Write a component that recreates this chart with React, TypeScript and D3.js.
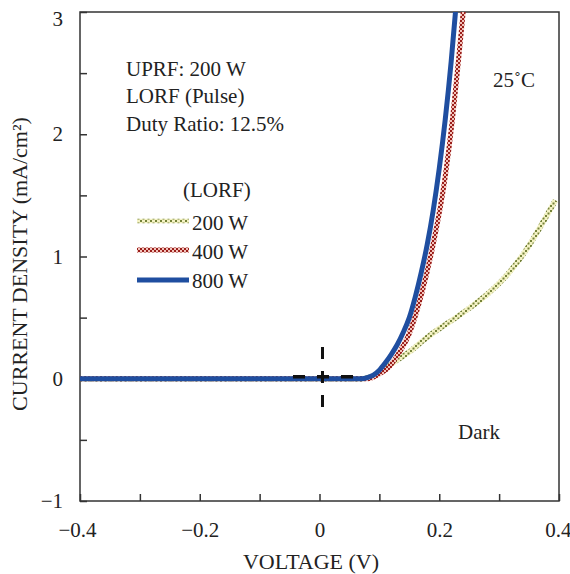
import React, { useEffect, useRef } from "react";
import * as d3 from "d3";

const W = 570;
const H = 574;
const M = { left: 80, top: 12, right: 559, bottom: 501 };

// Voltage (V) / current density (mA/cm²)
const v800 = [-0.4, -0.3, -0.2, -0.1, 0.0, 0.05, 0.07, 0.08, 0.09, 0.1, 0.11, 0.12, 0.13, 0.14, 0.15, 0.16, 0.17, 0.18, 0.19, 0.2, 0.21, 0.22, 0.228];
const j800 = [0, 0, 0, 0, 0, 0, 0.0, 0.01, 0.03, 0.07, 0.13, 0.2, 0.28, 0.38, 0.5, 0.67, 0.87, 1.1, 1.38, 1.72, 2.12, 2.6, 3.05];

const v400 = [-0.4, -0.3, -0.2, -0.1, 0.0, 0.05, 0.08, 0.1, 0.117, 0.13, 0.15, 0.172, 0.189, 0.209, 0.222, 0.232, 0.241];
const j400 = [0, 0, 0, 0, 0, 0, 0.0, 0.04, 0.1, 0.19, 0.37, 0.72, 1.08, 1.62, 2.12, 2.6, 3.05];

const v200 = [-0.4, -0.3, -0.2, -0.1, 0.0, 0.05, 0.07, 0.1, 0.12, 0.135, 0.15, 0.175, 0.2, 0.225, 0.251, 0.28, 0.306, 0.33, 0.346, 0.372, 0.394];
const j200 = [0, 0, 0, 0, 0, 0, 0.0, 0.05, 0.12, 0.17, 0.22, 0.32, 0.41, 0.49, 0.58, 0.69, 0.81, 0.95, 1.06, 1.27, 1.46];

const xTicksMajor = [-0.4, -0.2, 0, 0.2, 0.4];
const xTicksAll = [-0.4, -0.3, -0.2, -0.1, 0, 0.1, 0.2, 0.3, 0.4];
const yTicksMajor = [-1, 0, 1, 2, 3];
const yTicksAll = [-1, -0.5, 0, 0.5, 1, 1.5, 2, 2.5, 3];

const legendLabels = ["200 W", "400 W", "800 W"];
const infoLines = ["UPRF: 200 W", "LORF (Pulse)", "Duty Ratio: 12.5%"];

const FONT = "'Liberation Serif', 'Times New Roman', serif";
const FS = 21;

export default function App() {
  const ref = useRef<SVGSVGElement>(null);

  useEffect(() => {
    const svg = d3.select(ref.current);
    svg.selectAll("*").remove();

    const x = d3.scaleLinear().domain([-0.4, 0.4]).range([M.left, M.right]);
    const y = d3.scaleLinear().domain([-1, 3]).range([M.bottom, M.top]);

    const defs = svg.append("defs");
    const pRed = defs.append("pattern").attr("id", "pRed").attr("patternUnits", "userSpaceOnUse").attr("width", 4).attr("height", 4);
    pRed.append("rect").attr("width", 4).attr("height", 4).attr("fill", "#f2c4bc");
    pRed.append("rect").attr("x", 0).attr("y", 0).attr("width", 2).attr("height", 2).attr("fill", "#9a1e1a");
    pRed.append("rect").attr("x", 2).attr("y", 2).attr("width", 2).attr("height", 2).attr("fill", "#9a1e1a");

    const pGreen = defs.append("pattern").attr("id", "pGreen").attr("patternUnits", "userSpaceOnUse").attr("width", 5).attr("height", 5);
    pGreen.append("rect").attr("width", 5).attr("height", 5).attr("fill", "#f4f2c4");
    pGreen.append("rect").attr("x", 0).attr("y", 0).attr("width", 2).attr("height", 2).attr("fill", "#74823a");
    pGreen.append("rect").attr("x", 2.5).attr("y", 2.5).attr("width", 2).attr("height", 2).attr("fill", "#74823a");

    defs.append("clipPath").attr("id", "plotClip").append("rect")
      .attr("x", M.left).attr("y", M.top).attr("width", M.right - M.left).attr("height", M.bottom - M.top);

    // Frame
    svg.append("rect").attr("x", M.left).attr("y", M.top).attr("width", M.right - M.left).attr("height", M.bottom - M.top)
      .attr("fill", "none").attr("stroke", "#333").attr("stroke-width", 1.5);

    // Axes
    const xAxis = svg.append("g").attr("transform", `translate(0,${M.bottom})`)
      .call(d3.axisBottom(x).tickValues(xTicksAll).tickSize(-7).tickPadding(21)
        .tickFormat((d: any) => (xTicksMajor.some((t) => Math.abs(t - d) < 1e-9) ? d3.format("")(d) : "")));
    xAxis.select(".domain").remove();
    xAxis.selectAll("line").attr("stroke", "#333").attr("stroke-width", 1.5);
    xAxis.selectAll("text").attr("font-family", FONT).attr("font-size", FS).attr("fill", "#222");
    // last label kept inside the picture
    xAxis.selectAll<SVGTextElement, number>("text").filter((d) => Math.abs(d - 0.4) < 1e-9)
      .attr("text-anchor", "end").attr("dx", "12");
    xAxis.selectAll<SVGTextElement, number>("text").filter((d) => Math.abs(d + 0.4) < 1e-9)
      .attr("dx", "-3");

    const yAxis = svg.append("g").attr("transform", `translate(${M.left},0)`)
      .call(d3.axisLeft(y).tickValues(yTicksAll).tickSize(-7).tickPadding(17)
        .tickFormat((d: any) => (yTicksMajor.some((t) => Math.abs(t - d) < 1e-9) ? d3.format("")(d) : "")));
    yAxis.select(".domain").remove();
    yAxis.selectAll("line").attr("stroke", "#333").attr("stroke-width", 1.5);
    yAxis.selectAll("text").attr("font-family", FONT).attr("font-size", FS).attr("fill", "#222");
    yAxis.selectAll<SVGTextElement, number>("text").filter((d) => d === 3).attr("dy", "0.62em");

    // Axis titles
    svg.append("text").attr("x", 311).attr("y", 569).attr("text-anchor", "middle")
      .attr("font-family", FONT).attr("font-size", 22).attr("fill", "#222").text("VOLTAGE (V)");
    svg.append("text").attr("transform", `translate(27,264) rotate(-90)`).attr("text-anchor", "middle")
      .attr("font-family", FONT).attr("font-size", 22).attr("fill", "#222").text("CURRENT DENSITY (mA/cm²)");

    // Curves
    const line = d3.line<[number, number]>().x((d) => x(d[0])).y((d) => y(d[1])).curve(d3.curveMonotoneX);
    const g = svg.append("g").attr("clip-path", "url(#plotClip)");
    const series = [
      { v: v200, j: j200, stroke: "url(#pGreen)", w: 5.5 },
      { v: v400, j: j400, stroke: "url(#pRed)", w: 5 },
      { v: v800, j: j800, stroke: "#1f4ea0", w: 5 },
    ];
    series.forEach((s) => {
      const pts = s.v.map((vv, i) => [vv, s.j[i]] as [number, number]);
      g.append("path").attr("d", line(pts)).attr("fill", "none").attr("stroke", s.stroke)
        .attr("stroke-width", s.w).attr("stroke-linejoin", "round");
    });

    // Crosshair at origin
    svg.append("line").attr("x1", 293).attr("x2", 355).attr("y1", y(0) - 2).attr("y2", y(0) - 2)
      .attr("stroke", "#111").attr("stroke-width", 3.5).attr("stroke-dasharray", "12,12");
    svg.append("line").attr("x1", x(0.005)).attr("x2", x(0.005)).attr("y1", 347).attr("y2", 407)
      .attr("stroke", "#111").attr("stroke-width", 3).attr("stroke-dasharray", "12,12");

    // Info text
    const infoY = [75.5, 103, 131];
    infoLines.forEach((t, i) => {
      svg.append("text").attr("x", 126).attr("y", infoY[i]).attr("font-family", FONT).attr("font-size", FS)
        .attr("fill", "#222").text(t);
    });
    svg.append("text").attr("x", 183).attr("y", 197).attr("font-family", FONT).attr("font-size", FS).attr("fill", "#222").text("(LORF)");

    // Legend
    const legendStrokes = ["url(#pGreen)", "url(#pRed)", "#1f4ea0"];
    const legendW = [4.5, 5, 5];
    const lineY = [221, 250, 280];
    const textY = [230, 259, 288];
    legendLabels.forEach((lab, i) => {
      svg.append("line").attr("x1", 137).attr("x2", 189).attr("y1", lineY[i]).attr("y2", lineY[i])
        .attr("stroke", legendStrokes[i]).attr("stroke-width", legendW[i]);
      svg.append("text").attr("x", 192).attr("y", textY[i]).attr("font-family", FONT).attr("font-size", FS)
        .attr("fill", "#222").text(lab);
    });

    svg.append("text").attr("x", 493).attr("y", 87).attr("font-family", FONT).attr("font-size", FS).attr("fill", "#222").text("25˚C");
    svg.append("text").attr("x", 458).attr("y", 439).attr("font-family", FONT).attr("font-size", FS).attr("fill", "#222").text("Dark");
  }, []);

  return (
    <svg ref={ref} width={W} height={H} style={{ position: "absolute", left: 0, top: 0, background: "#fff" }} />
  );
}
